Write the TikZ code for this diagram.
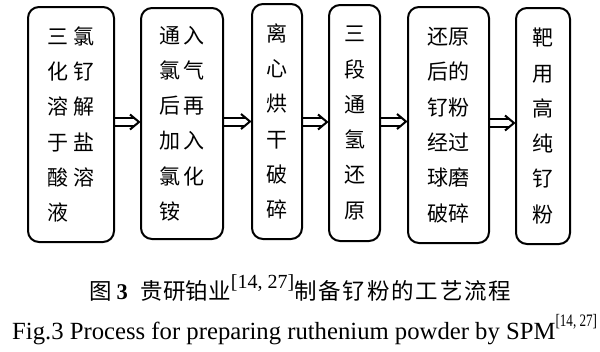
\documentclass[tikz,border=0pt]{standalone}
\usepackage{fontspec}
\setmainfont{Liberation Serif}
\newfontfamily\cjk{Noto Sans CJK SC}
\usetikzlibrary{calc}
\tikzset{
  procbox/.style={draw, line width=2pt, rounded corners=11pt, inner sep=0pt,
    font={\cjk\fontsize{21}{35.3}\selectfont}},
  arrowline/.style={line width=2pt, line join=miter},
  caption/.style={inner sep=0pt, anchor=base west}
}
\newcommand\flowarr[3]{%
  \draw[arrowline] ($(#1.east |- #3)+(0,-4)$) -- ($(#2.west |- #3)+(-5.7,-4)$);
  \draw[arrowline] ($(#1.east |- #3)+(0,4)$) -- ($(#2.west |- #3)+(-5.7,4)$);
  \draw[arrowline] ($(#2.west |- #3)+(-10,-7.5)$) -- ($(#2.west |- #3)+(-1,0)$) -- ($(#2.west |- #3)+(-10,7.5)$);
}
\begin{document}
\begin{tikzpicture}[x=1pt, y=-1pt]
\useasboundingbox (0,0) rectangle (600,351);
\node[procbox, minimum width=86pt, minimum height=235pt, align=left] (b1) at (71,124.5)
  {三\hspace{6pt}氯\\化\hspace{6pt}钌\\溶\hspace{6pt}解\\于\hspace{6pt}盐\\酸\hspace{6pt}溶\\液};
\node[procbox, minimum width=82pt, minimum height=231pt, align=left] (b2) at (182,123.5)
  {通\hspace{3pt}入\\氯\hspace{3pt}气\\后\hspace{3pt}再\\加\hspace{3pt}入\\氯\hspace{3pt}化\\铵};
\node[procbox, minimum width=50pt, minimum height=235pt, align=center] (b3) at (277,121.5)
  {离\\心\\烘\\干\\破\\碎};
\node[procbox, minimum width=51pt, minimum height=236pt, align=center] (b4) at (354.5,123)
  {三\\段\\通\\氢\\还\\原};
\node[procbox, minimum width=81pt, minimum height=236pt, align=left] (b5) at (448.5,125)
  {还原\\后的\\钌粉\\经过\\球磨\\破碎};
\node[procbox, minimum width=54pt, minimum height=236pt, align=center] (b6) at (543,126)
  {靶\\用\\高\\纯\\钌\\粉};
\coordinate (m1) at (0,122);
\coordinate (m2) at (0,121.5);
\coordinate (m3) at (0,122);
\coordinate (m4) at (0,121.5);
\coordinate (m5) at (0,123);
\flowarr{b1}{b2}{m1}
\flowarr{b2}{b3}{m2}
\flowarr{b3}{b4}{m3}
\flowarr{b4}{b5}{m4}
\flowarr{b5}{b6}{m5}
\node[caption] (cap1) at (89,299)
  {\fontsize{22.5}{22.5}\selectfont{\cjk 图}\hspace{5pt}\textbf{3}\hspace{13pt}{\cjk 贵研铂业}\raisebox{10.5pt}{\fontsize{20}{20}\selectfont [14, 27]}{\cjk 制\kern1.8pt 备\kern1.8pt 钌\kern1.8pt 粉\kern1.8pt 的\kern1.8pt 工\kern1.8pt 艺\kern1.8pt 流\kern1.8pt 程}};
\node[caption] (cap2) at (12,339)
  {\fontsize{24.7}{24.7}\selectfont Fig.3 Process for preparing ruthenium powder by SPM\raisebox{12.5pt}{\scalebox{0.75}[1]{\fontsize{17.5}{17.5}\selectfont [14, 27]}}};
\end{tikzpicture}
\end{document}
